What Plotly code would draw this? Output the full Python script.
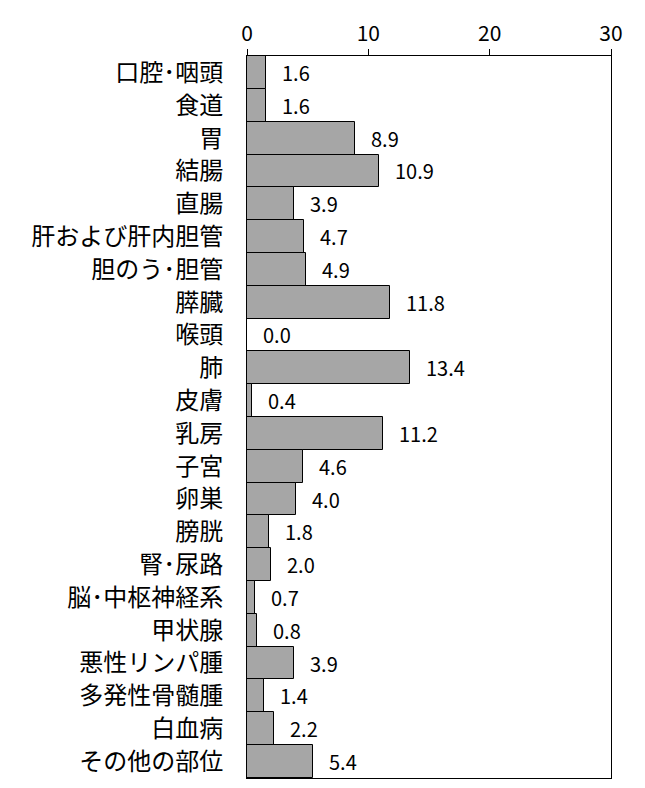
import plotly.graph_objects as go

# 部位別の値（上から順）
sites = ["口腔･咽頭", "食道", "胃", "結腸", "直腸", "肝および肝内胆管", "胆のう･胆管",
         "膵臓", "喉頭", "肺", "皮膚", "乳房", "子宮", "卵巣", "膀胱", "腎･尿路",
         "脳･中枢神経系", "甲状腺", "悪性リンパ腫", "多発性骨髄腫", "白血病", "その他の部位"]
values = [1.6, 1.6, 8.9, 10.9, 3.9, 4.7, 4.9, 11.8, 0.0, 13.4, 0.4, 11.2,
          4.6, 4.0, 1.8, 2.0, 0.7, 0.8, 3.9, 1.4, 2.2, 5.4]
x_ticks = [0, 10, 20, 30]

FONT = "Noto Sans CJK JP"

fig = go.Figure(go.Bar(
    x=values, y=sites, orientation="h",
    marker=dict(color="#a6a6a6", line=dict(color="#000000", width=1)),
    hoverinfo="x+y",
))

# 数値ラベル（バーの右側）
for s, v in zip(sites, values):
    fig.add_annotation(x=v, y=s, text=f"{v:.1f}", showarrow=False,
                       xanchor="left", xshift=14, font=dict(family=FONT, size=20, color="#000"))

# ページ余白(8px)を見込んで寸法を調整
fig.update_layout(
    width=637, height=780,
    margin=dict(l=239, r=34, t=38, b=9),
    paper_bgcolor="white", plot_bgcolor="white",
    bargap=0, showlegend=False,
    font=dict(family=FONT, color="#000"),
)
fig.update_xaxes(
    side="top", range=[0, 30], tickvals=x_ticks, ticks="outside", ticklen=6,
    tickcolor="#000", showgrid=False, zeroline=False,
    showline=True, linecolor="#000", linewidth=1, mirror=True,
    tickfont=dict(family=FONT, size=21),
)
fig.update_yaxes(
    autorange="reversed", ticks="", showgrid=False, zeroline=False,
    showline=True, linecolor="#000", linewidth=1, mirror=True,
    ticklabelstandoff=18, tickfont=dict(family=FONT, size=24),
)

fig.write_html("out.html")
